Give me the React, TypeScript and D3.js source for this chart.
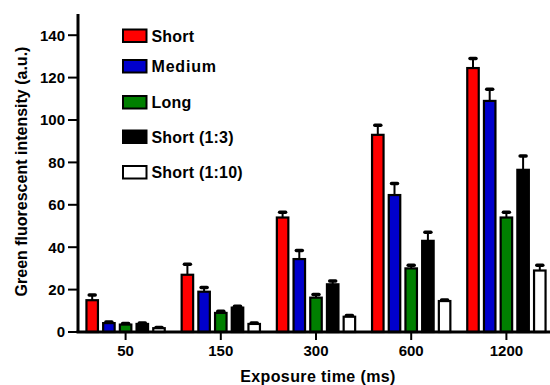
import React from "react";
import * as d3 from "d3";

const categories = ["50", "150", "300", "600", "1200"];
const seriesNames = ["Short", "Medium", "Long", "Short (1:3)", "Short (1:10)"];
const seriesColors = ["#ff0000", "#0000cc", "#008000", "#000000", "#ffffff"];
const shortVals = [15, 27, 54, 93, 124.5];
const shortErr = [2.5, 5, 2.5, 4.5, 4.5];
const mediumVals = [4.2, 19, 34.4, 64.6, 109];
const mediumErr = [0.5, 2, 4, 5.5, 5.5];
const longVals = [3.5, 9, 16.2, 30, 54];
const longErr = [0.5, 0.8, 1.5, 1.5, 2.5];
const short13Vals = [3.8, 11.5, 22.5, 43, 76.5];
const short13Err = [0.5, 0.6, 1.5, 4, 6.5];
const short110Vals = [1.8, 3.8, 7.2, 14.6, 29];
const short110Err = [0.3, 0.5, 0.6, 0.5, 2.5];
const yTicks = [0, 20, 40, 60, 80, 100, 120, 140];

const values = [shortVals, mediumVals, longVals, short13Vals, short110Vals];
const errors = [shortErr, mediumErr, longErr, short13Err, short110Err];

const FONT = "Arial, 'Liberation Sans', sans-serif";
const legendTop = [29.5, 60, 96, 130.5, 166];

export default function App() {
  const W = 550, H = 385;
  const x0 = 78, xEnd = 554;
  const y = d3.scaleLinear().domain([0, 150]).range([332, 14]);
  const x = d3.scaleBand().domain(categories).range([x0, xEnd]).padding(0);
  const inner = 83.5;
  const xs = d3.scaleBand().domain(seriesNames).range([0, inner]).padding(0);
  const bw = 11.5;

  return (
    <svg width={W} height={H} style={{ position: "absolute", left: 0, top: 0, background: "#fff" }}>
      {categories.map((c, ci) => {
        const gStart = (x(c) as number) + (x.bandwidth() - inner) / 2;
        return (
          <g key={c}>
            {seriesNames.map((s, si) => {
              const v = values[si][ci];
              const e = errors[si][ci];
              const cx = gStart + (xs(s) as number) + xs.bandwidth() / 2;
              const yt = y(v);
              const ye = y(v + e);
              return (
                <g key={s}>
                  <line x1={cx} x2={cx} y1={yt} y2={ye} stroke="#000" strokeWidth={2} />
                  <line x1={cx - 3} x2={cx + 3} y1={ye} y2={ye} stroke="#000" strokeWidth={3.5} strokeLinecap="round" />
                  <rect x={cx - bw / 2} y={yt} width={bw} height={y(0) - yt} fill={seriesColors[si]} stroke="#000" strokeWidth={2.2} />
                </g>
              );
            })}
          </g>
        );
      })}
      <line x1={x0} x2={x0} y1={y(150)} y2={y(0) + 1} stroke="#000" strokeWidth={3} />
      {yTicks.map((t) => (
        <g key={t}>
          <line x1={x0 - 10} x2={x0} y1={y(t)} y2={y(t)} stroke="#000" strokeWidth={2} />
          <text x={x0 - 13} y={y(t)} dy="0.36em" textAnchor="end" fontFamily={FONT} fontWeight="bold" fontSize={15}>{t}</text>
        </g>
      ))}
      <line x1={x0 - 1.5} x2={W} y1={y(0)} y2={y(0)} stroke="#000" strokeWidth={3} />
      {categories.map((c) => {
        const cx = (x(c) as number) + x.bandwidth() / 2;
        return (
          <g key={c}>
            <line x1={cx} x2={cx} y1={y(0)} y2={y(0) + 8} stroke="#000" strokeWidth={2} />
            <text x={cx} y={355.5} textAnchor="middle" fontFamily={FONT} fontWeight="bold" fontSize={15}>{c}</text>
          </g>
        );
      })}
      <text x={318} y={382} textAnchor="middle" fontFamily={FONT} fontWeight="bold" fontSize={16} letterSpacing={0.4}>Exposure time (ms)</text>
      <text transform={`translate(26.5,171.5) rotate(-90)`} textAnchor="middle" fontFamily={FONT} fontWeight="bold" fontSize={16}>Green fluorescent intensity (a.u.)</text>
      {seriesNames.map((s, i) => {
        const ly = legendTop[i];
        return (
          <g key={s}>
            <rect x={123} y={ly} width={23.5} height={12.5} fill={seriesColors[i]} stroke="#000" strokeWidth={2} />
            <text x={151.5} y={ly + 12.3} fontFamily={FONT} fontWeight="bold" fontSize={16} letterSpacing={i === 1 ? 0.8 : 0.2}>{s}</text>
          </g>
        );
      })}
    </svg>
  );
}
